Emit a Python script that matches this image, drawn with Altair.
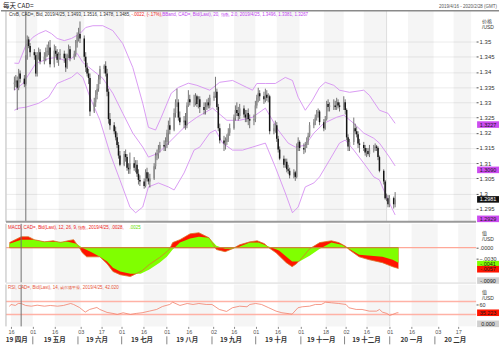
import altair as alt
import pandas as pd

# ---------------- values ----------------
first_open = 1.3360
closes = [
    1.3365, 1.3372, 1.3348, 1.3395, 1.3378,
    1.3360, 1.3445, 1.3507, 1.3485, 1.3465,
    1.3455, 1.3395, 1.3455, 1.3465, 1.3435,
    1.3450, 1.3465, 1.3470, 1.3480, 1.3425,
    1.3470, 1.3460, 1.3440, 1.3455, 1.3460,
    1.3445, 1.3415, 1.3455, 1.3475, 1.3445,
    1.3460, 1.3495, 1.3520, 1.3525, 1.3510,
    1.3450, 1.3415, 1.3395, 1.3380, 1.3270,
    1.3300, 1.3325, 1.3345, 1.3375, 1.3410,
    1.3420, 1.3395, 1.3335, 1.3245, 1.3225,
    1.3205, 1.3185, 1.3160, 1.3125, 1.3095,
    1.3130, 1.3120, 1.3085, 1.3080, 1.3100,
    1.3085, 1.3095, 1.3065, 1.3045, 1.3040,
    1.3025, 1.3070, 1.3050, 1.3040, 1.3050,
    1.3090, 1.3125, 1.3130, 1.3145, 1.3160,
    1.3155, 1.3170, 1.3200, 1.3225, 1.3210,
    1.3265, 1.3300, 1.3300, 1.3250, 1.3235,
    1.3240, 1.3225, 1.3290, 1.3310, 1.3300,
    1.3300, 1.3320, 1.3295, 1.3310, 1.3285,
    1.3275, 1.3285, 1.3300, 1.3290, 1.3315,
    1.3320, 1.3335, 1.3285, 1.3215, 1.3175,
    1.3165, 1.3170, 1.3180, 1.3200, 1.3215,
    1.3250, 1.3275, 1.3265, 1.3255, 1.3280,
    1.3260, 1.3250, 1.3265, 1.3245, 1.3240,
    1.3245, 1.3290, 1.3315, 1.3330, 1.3320,
    1.3310, 1.3325, 1.3315, 1.3320, 1.3205,
    1.3215, 1.3225, 1.3180, 1.3145, 1.3115,
    1.3095, 1.3105, 1.3080, 1.3075, 1.3060,
    1.3070, 1.3055, 1.3155, 1.3170, 1.3150,
    1.3145, 1.3160, 1.3175, 1.3190, 1.3225,
    1.3235, 1.3250, 1.3265, 1.3270, 1.3235,
    1.3215, 1.3245, 1.3295, 1.3285, 1.3290,
    1.3290, 1.3285, 1.3300, 1.3290, 1.3285,
    1.3300, 1.3275, 1.3185, 1.3155, 1.3170,
    1.3215, 1.3205, 1.3195, 1.3165, 1.3160,
    1.3150, 1.3135, 1.3140, 1.3130, 1.3145,
    1.3150, 1.3155, 1.3150, 1.3120, 1.3075,
    1.3040, 1.2985, 1.2985, 1.2965, 1.2985,
    1.2965, 1.2981,
]
highs = [
    1.3385, 1.3390, 1.3385, 1.3410, 1.3405,
    1.3390, 1.3455, 1.3520, 1.3516, 1.3495,
    1.3475, 1.3465, 1.3465, 1.3480, 1.3475,
    1.3465, 1.3480, 1.3490, 1.3500, 1.3505,
    1.3490, 1.3485, 1.3475, 1.3465, 1.3475,
    1.3470, 1.3460, 1.3460, 1.3490, 1.3485,
    1.3470, 1.3505, 1.3530, 1.3545, 1.3566,
    1.3520, 1.3465, 1.3430, 1.3410, 1.3395,
    1.3315, 1.3340, 1.3360, 1.3390, 1.3420,
    1.3425, 1.3435, 1.3410, 1.3345, 1.3265,
    1.3235, 1.3220, 1.3200, 1.3170, 1.3140,
    1.3140, 1.3145, 1.3130, 1.3100, 1.3135,
    1.3120, 1.3110, 1.3110, 1.3080, 1.3060,
    1.3050, 1.3080, 1.3085, 1.3070, 1.3065,
    1.3100, 1.3135, 1.3145, 1.3160, 1.3170,
    1.3175, 1.3185, 1.3210, 1.3240, 1.3250,
    1.3280, 1.3310, 1.3345, 1.3310, 1.3270,
    1.3255, 1.3265, 1.3300, 1.3340, 1.3325,
    1.3325, 1.3330, 1.3325, 1.3320, 1.3320,
    1.3300, 1.3300, 1.3310, 1.3315, 1.3325,
    1.3335, 1.3384, 1.3345, 1.3295, 1.3230,
    1.3190, 1.3185, 1.3195, 1.3215, 1.3230,
    1.3260, 1.3290, 1.3300, 1.3285, 1.3295,
    1.3290, 1.3275, 1.3275, 1.3280, 1.3260,
    1.3260, 1.3305, 1.3325, 1.3348, 1.3340,
    1.3335, 1.3345, 1.3340, 1.3330, 1.3325,
    1.3230, 1.3240, 1.3235, 1.3190, 1.3155,
    1.3125, 1.3115, 1.3115, 1.3095, 1.3085,
    1.3080, 1.3075, 1.3165, 1.3185, 1.3175,
    1.3165, 1.3170, 1.3185, 1.3200, 1.3235,
    1.3245, 1.3260, 1.3275, 1.3280, 1.3275,
    1.3245, 1.3255, 1.3305, 1.3310, 1.3300,
    1.3310, 1.3305, 1.3315, 1.3310, 1.3300,
    1.3320, 1.3310, 1.3280, 1.3195, 1.3180,
    1.3250, 1.3230, 1.3220, 1.3205, 1.3180,
    1.3170, 1.3160, 1.3150, 1.3150, 1.3160,
    1.3160, 1.3165, 1.3160, 1.3155, 1.3125,
    1.3080, 1.3045, 1.3000, 1.2995, 1.2995,
    1.2990, 1.3005,
]
lows = [
    1.3340, 1.3350, 1.3275, 1.3340, 1.3365,
    1.3350, 1.3355, 1.3440, 1.3478, 1.3450,
    1.3440, 1.3385, 1.3385, 1.3440, 1.3425,
    1.3425, 1.3435, 1.3450, 1.3455, 1.3415,
    1.3415, 1.3450, 1.3430, 1.3420, 1.3440,
    1.3430, 1.3400, 1.3410, 1.3445, 1.3435,
    1.3440, 1.3450, 1.3480, 1.3500, 1.3495,
    1.3435, 1.3400, 1.3385, 1.3360, 1.3255,
    1.3265, 1.3285, 1.3310, 1.3335, 1.3360,
    1.3395, 1.3385, 1.3320, 1.3230, 1.3210,
    1.3195, 1.3175, 1.3150, 1.3115, 1.3090,
    1.3090, 1.3105, 1.3075, 1.3065, 1.3065,
    1.3075, 1.3070, 1.3055, 1.3030, 1.3025,
    1.3016, 1.3020, 1.3040, 1.3030, 1.3020,
    1.3045, 1.3080, 1.3110, 1.3115, 1.3135,
    1.3140, 1.3140, 1.3150, 1.3160, 1.3195,
    1.3205, 1.3250, 1.3285, 1.3240, 1.3225,
    1.3215, 1.3210, 1.3215, 1.3285, 1.3290,
    1.3285, 1.3290, 1.3285, 1.3280, 1.3265,
    1.3260, 1.3260, 1.3275, 1.3280, 1.3280,
    1.3305, 1.3315, 1.3275, 1.3205, 1.3165,
    1.3140, 1.3145, 1.3160, 1.3170, 1.3190,
    1.3210, 1.3240, 1.3255, 1.3240, 1.3245,
    1.3250, 1.3235, 1.3235, 1.3225, 1.3215,
    1.3225, 1.3235, 1.3280, 1.3300, 1.3305,
    1.3295, 1.3300, 1.3305, 1.3300, 1.3195,
    1.3195, 1.3200, 1.3170, 1.3135, 1.3110,
    1.3085, 1.3085, 1.3070, 1.3065, 1.3050,
    1.3050, 1.3042, 1.3050, 1.3140, 1.3140,
    1.3130, 1.3135, 1.3150, 1.3160, 1.3185,
    1.3215, 1.3225, 1.3240, 1.3250, 1.3225,
    1.3205, 1.3210, 1.3240, 1.3270, 1.3270,
    1.3275, 1.3275, 1.3275, 1.3280, 1.3270,
    1.3275, 1.3260, 1.3175, 1.3140, 1.3140,
    1.3160, 1.3195, 1.3185, 1.3150, 1.3135,
    1.3140, 1.3125, 1.3120, 1.3125, 1.3120,
    1.3135, 1.3140, 1.3140, 1.3110, 1.3070,
    1.3030, 1.2980, 1.2975, 1.2955, 1.2955,
    1.2951, 1.2955,
]

upper_dates = ["2019-04-15", "2019-04-18", "2019-04-23", "2019-04-28", "2019-05-02", "2019-05-07",
               "2019-05-11", "2019-05-15", "2019-05-20", "2019-05-25", "2019-05-31", "2019-06-04",
               "2019-06-09", "2019-06-16", "2019-06-23", "2019-06-30", "2019-07-07", "2019-07-14",
               "2019-07-18", "2019-07-23", "2019-07-27", "2019-08-03", "2019-08-08", "2019-08-15",
               "2019-08-21", "2019-08-30", "2019-09-06", "2019-09-15", "2019-09-25", "2019-09-29",
               "2019-10-02", "2019-10-08", "2019-10-15", "2019-10-22", "2019-10-27", "2019-10-31",
               "2019-11-05", "2019-11-10", "2019-11-15", "2019-11-19", "2019-11-25", "2019-11-29",
               "2019-12-06", "2019-12-16", "2019-12-20", "2019-12-27", "2020-01-02", "2020-01-07"]
upper_vals = [1.3429, 1.3428, 1.3487, 1.3514, 1.3526, 1.3536, 1.3526, 1.3510, 1.3503, 1.3510,
              1.3526, 1.3546, 1.3552, 1.3552, 1.3536, 1.3493, 1.3415, 1.3297, 1.3218, 1.3209,
              1.3251, 1.3330, 1.3349, 1.3363, 1.3356, 1.3340, 1.3366, 1.3372, 1.3349, 1.3340,
              1.3362, 1.3362, 1.3362, 1.3382, 1.3372, 1.3317, 1.3274, 1.3307, 1.3349, 1.3366,
              1.3356, 1.3340, 1.3333, 1.3340, 1.3323, 1.3274, 1.3264, 1.3231]
mid_dates = ["2019-04-15", "2019-04-21", "2019-04-30", "2019-05-09", "2019-05-15", "2019-05-20",
             "2019-05-25", "2019-05-29", "2019-06-02", "2019-06-09", "2019-06-16", "2019-06-23",
             "2019-06-30", "2019-07-07", "2019-07-14", "2019-07-18", "2019-07-25", "2019-08-01",
             "2019-08-08", "2019-08-15", "2019-08-21", "2019-09-01", "2019-09-11", "2019-09-20",
             "2019-09-29", "2019-10-08", "2019-10-17", "2019-10-24", "2019-10-29", "2019-11-05",
             "2019-11-11", "2019-11-18", "2019-11-27", "2019-12-02", "2019-12-09", "2019-12-16",
             "2019-12-23", "2019-12-27", "2020-01-03", "2020-01-07"]
mid_vals = [1.3340, 1.3362, 1.3428, 1.3444, 1.3448, 1.3438, 1.3444, 1.3461, 1.3431, 1.3405,
            1.3379, 1.3330, 1.3264, 1.3199, 1.3153, 1.3120, 1.3133, 1.3166, 1.3199, 1.3231,
            1.3251, 1.3281, 1.3241, 1.3241, 1.3251, 1.3281, 1.3209, 1.3166, 1.3153, 1.3159,
            1.3199, 1.3231, 1.3251, 1.3258, 1.3231, 1.3199, 1.3182, 1.3166, 1.3120, 1.3091]
lower_dates = ["2019-04-15", "2019-04-18", "2019-04-23", "2019-05-02", "2019-05-09", "2019-05-15",
               "2019-05-20", "2019-05-25", "2019-05-29", "2019-06-02", "2019-06-07", "2019-06-14",
               "2019-06-21", "2019-06-28", "2019-07-05", "2019-07-09", "2019-07-14", "2019-07-18",
               "2019-07-25", "2019-08-01", "2019-08-05", "2019-08-12", "2019-08-19", "2019-08-23",
               "2019-08-30", "2019-09-03", "2019-09-08", "2019-09-15", "2019-09-22", "2019-09-29",
               "2019-10-08", "2019-10-15", "2019-10-22", "2019-10-27", "2019-10-31", "2019-11-05",
               "2019-11-11", "2019-11-15", "2019-11-22", "2019-11-29", "2019-12-03", "2019-12-09",
               "2019-12-16", "2019-12-23", "2019-12-27", "2020-01-02", "2020-01-07"]
lower_vals = [1.3274, 1.3281, 1.3284, 1.3297, 1.3317, 1.3362, 1.3372, 1.3382, 1.3398, 1.3382,
              1.3317, 1.3241, 1.3133, 1.3045, 1.2956, 1.2937, 1.2956, 1.3022, 1.3035, 1.3022,
              1.3012, 1.3068, 1.3143, 1.3153, 1.3199, 1.3209, 1.3166, 1.3143, 1.3143, 1.3153,
              1.3166, 1.3087, 1.3002, 1.2937, 1.2956, 1.3022, 1.3035, 1.3055, 1.3110, 1.3166,
              1.3176, 1.3143, 1.3100, 1.3055, 1.3045, 1.2979, 1.2930]

macd_dates = ["2019-04-15", "2019-04-23", "2019-04-28", "2019-05-02", "2019-05-09", "2019-05-15",
              "2019-05-20", "2019-05-25", "2019-05-29", "2019-05-31", "2019-06-02", "2019-06-04",
              "2019-06-07", "2019-06-11", "2019-06-16", "2019-06-21", "2019-06-25", "2019-06-30",
              "2019-07-07", "2019-07-11", "2019-07-15", "2019-07-20", "2019-07-27", "2019-08-01",
              "2019-08-03", "2019-08-05", "2019-08-10", "2019-08-17", "2019-08-23", "2019-08-30",
              "2019-09-04", "2019-09-10", "2019-09-15", "2019-09-20", "2019-09-27", "2019-10-02",
              "2019-10-07", "2019-10-10", "2019-10-15", "2019-10-22", "2019-10-26", "2019-10-29",
              "2019-11-02", "2019-11-07", "2019-11-14", "2019-11-22", "2019-11-27", "2019-12-02",
              "2019-12-04", "2019-12-11", "2019-12-18", "2019-12-27", "2020-01-03", "2020-01-07"]
macd_vals = [0.0014, 0.0030, 0.0030, 0.0022, 0.0016, 0.0019, 0.0014, 0.0019, 0.0022, 0.0011,
             0.0000, -0.0014, -0.0025, -0.0025, -0.0025, -0.0044, -0.0065, -0.0074, -0.0079, -0.0071,
             -0.0063, -0.0046, -0.0027, -0.0011, -0.0003, 0.0014, 0.0022, 0.0038, 0.0041, 0.0027,
             -0.0005, -0.0011, -0.0003, 0.0008, 0.0016, 0.0019, 0.0011, 0.0000, -0.0014, -0.0041,
             -0.0052, -0.0044, -0.0027, -0.0003, 0.0014, 0.0019, 0.0014, 0.0003, -0.0005, -0.0025,
             -0.0033, -0.0041, -0.0052, -0.0057]
signal_dates = ["2019-04-15", "2019-04-23", "2019-05-02", "2019-05-09", "2019-05-15", "2019-05-25",
                "2019-05-31", "2019-06-04", "2019-06-11", "2019-06-16", "2019-06-21", "2019-06-25",
                "2019-06-30", "2019-07-07", "2019-07-14", "2019-07-20", "2019-07-27", "2019-08-01",
                "2019-08-05", "2019-08-10", "2019-08-17", "2019-08-23", "2019-08-30", "2019-09-04",
                "2019-09-10", "2019-09-15", "2019-09-20", "2019-09-27", "2019-10-03", "2019-10-10",
                "2019-10-17", "2019-10-26", "2019-10-31", "2019-11-07", "2019-11-14", "2019-11-22",
                "2019-11-29", "2019-12-04", "2019-12-11", "2019-12-27", "2020-01-03", "2020-01-07"]
signal_vals = [0.0011, 0.0022, 0.0022, 0.0016, 0.0016, 0.0016, 0.0011, 0.0000, -0.0014, -0.0025,
               -0.0038, -0.0055, -0.0065, -0.0071, -0.0071, -0.0060, -0.0041, -0.0025, -0.0005, 0.0014,
               0.0025, 0.0030, 0.0027, 0.0005, -0.0003, -0.0003, 0.0003, 0.0014, 0.0014, 0.0003,
               -0.0008, -0.0038, -0.0038, -0.0022, -0.0003, 0.0014, 0.0008, -0.0003, -0.0019, -0.0025,
               -0.0033, -0.0041]

rsi_dates = ["2019-04-15", "2019-04-16", "2019-04-19", "2019-04-21", "2019-04-23", "2019-04-26", "2019-04-30",
             "2019-05-04", "2019-05-09", "2019-05-13", "2019-05-18", "2019-05-22", "2019-05-27", "2019-05-29",
             "2019-06-02", "2019-06-06", "2019-06-09", "2019-06-14", "2019-06-16", "2019-06-21", "2019-06-25",
             "2019-06-28", "2019-07-02", "2019-07-07", "2019-07-11", "2019-07-15", "2019-07-20", "2019-07-25",
             "2019-07-29", "2019-08-03", "2019-08-05", "2019-08-10", "2019-08-15", "2019-08-19", "2019-08-23",
             "2019-08-28", "2019-09-01", "2019-09-06", "2019-09-11", "2019-09-15", "2019-09-20", "2019-09-25",
             "2019-09-27", "2019-10-01", "2019-10-05", "2019-10-10", "2019-10-15", "2019-10-19", "2019-10-24",
             "2019-10-26", "2019-10-30", "2019-11-02", "2019-11-07", "2019-11-11", "2019-11-15", "2019-11-18",
             "2019-11-22", "2019-11-27", "2019-12-02", "2019-12-04", "2019-12-09", "2019-12-13", "2019-12-18",
             "2019-12-23", "2019-12-25", "2019-12-27", "2019-12-30", "2020-01-01", "2020-01-03", "2020-01-06",
             "2020-01-07"]
rsi_vals = [54.6, 60.8, 57.7, 63.8, 63.8, 57.7, 55.5,
            58.6, 55.5, 57.7, 55.5, 57.7, 63.8, 60.8,
            51.5, 37.1, 45.4, 51.5, 45.4, 36.2, 33.1,
            30.0, 35.2, 30.0, 33.1, 35.2, 40.2, 45.4,
            54.6, 60.8, 67.8, 57.7, 63.8, 60.8, 63.8,
            60.8, 60.8, 45.4, 39.2, 50.6, 55.5, 53.7,
            60.8, 63.8, 60.8, 50.6, 40.2, 35.2, 32.2,
            30.9, 50.6, 53.7, 55.5, 60.8, 60.8, 67.8,
            66.0, 63.8, 60.8, 50.6, 45.4, 45.4, 40.2,
            40.2, 45.4, 37.1, 33.1, 26.9, 30.0, 35.2,
            35.2]

band_starts = ["2019-04-16", "2019-05-16", "2019-06-17", "2019-07-16", "2019-08-16", "2019-09-16",
               "2019-10-16", "2019-11-18", "2019-12-16", "2020-01-16", "2020-02-17"]
band_ends = ["2019-05-01", "2019-06-03", "2019-07-01", "2019-08-01", "2019-09-02", "2019-10-01",
             "2019-11-01", "2019-12-02", "2020-01-01", "2020-02-03", "2020-02-29T07:00"]
tick_dates = ["2019-04-16", "2019-05-01", "2019-05-16", "2019-06-03", "2019-06-17", "2019-07-01",
              "2019-07-16", "2019-08-01", "2019-08-16", "2019-09-02", "2019-09-16", "2019-10-01",
              "2019-10-16", "2019-11-01", "2019-11-18", "2019-12-02", "2019-12-16", "2020-01-01",
              "2020-01-16", "2020-02-03", "2020-02-17"]
month_labels = ["19 四月", "19 五月", "19 六月", "19 七月", "19 八月", "19 九月",
                "19 十月", "19 十一月", "19 十二月", "20 一月", "20 二月"]
month_label_dates = ["2019-04-20", "2019-05-16", "2019-06-14", "2019-07-15", "2019-08-15", "2019-09-14",
                     "2019-10-15", "2019-11-15", "2019-12-16", "2020-01-16", "2020-02-15"]
month_sep_dates = ["2019-05-01", "2019-06-01", "2019-07-01", "2019-08-01", "2019-09-01",
                   "2019-10-01", "2019-11-01", "2019-12-01", "2020-01-01", "2020-02-01"]
price_ticks = [1.295, 1.3, 1.305, 1.31, 1.315, 1.32, 1.325, 1.33, 1.335, 1.34, 1.345, 1.35]
cursor_date = "2019-04-23"

# value tags on the right edge (value where the tag sits, text it shows)
price_tag_pos = [1.3227, 1.3078, 1.2981, 1.2917]
price_tag_text = ["1.3227", "1.3090", "1.2981", "1.2929"]
macd_tag_pos = [-0.0045, -0.0059, -0.0090]
macd_tag_text = ["-.0041", "-.0057", "-.0090"]
rsi_tag_pos = [35.2, 1.0]
rsi_tag_text = ["35.223", "0.000"]

# ---------------- helpers ----------------
def ts(s):
    return int(pd.Timestamp(s, tz="UTC").value // 1_000_000)

W, H1, H2, H3 = 472, 212, 59, 42
XDOM = [ts("2019-04-12T14:00"), ts("2020-02-29T07:00")]
XS = alt.Scale(type="utc", domain=XDOM)
FONT = "Liberation Sans"
CJK = "Noto Sans CJK SC"
BOX = "M-1,-0.3L1,-0.3L1,0.3L-1,0.3Z"
one = pd.DataFrame({"a": [0]})


def X(field, axis=None):
    return alt.X(f"{field}:T", scale=XS, axis=axis)


dates = pd.bdate_range("2019-04-15", periods=len(closes))
opens = [first_open] + closes[:-1]
candles = pd.DataFrame({
    "t": [ts(d.strftime("%Y-%m-%d")) for d in dates],
    "o": opens, "h": highs, "l": lows, "c": closes,
})
candles["dir"] = ["up" if c >= o else "down" for o, c in zip(opens, closes)]

bb = pd.concat([
    pd.DataFrame({"t": [ts(d) for d in upper_dates], "v": upper_vals, "band": "upper"}),
    pd.DataFrame({"t": [ts(d) for d in mid_dates], "v": mid_vals, "band": "mid"}),
    pd.DataFrame({"t": [ts(d) for d in lower_dates], "v": lower_vals, "band": "lower"}),
])
bands = pd.DataFrame({"s": [ts(d) for d in band_starts], "e": [ts(d) for d in band_ends]})
macd = pd.DataFrame({"t": [ts(d) for d in macd_dates], "v": macd_vals})
signal = pd.DataFrame({"t": [ts(d) for d in signal_dates], "v": signal_vals})
rsi = pd.DataFrame({"t": [ts(d) for d in rsi_dates], "v": rsi_vals})
cursor = pd.DataFrame({"t": [ts(cursor_date)]})
yearline = pd.DataFrame({"t": [ts("2020-01-01")]})


def txt(x, y, s, color="#333", size=4.5, font=FONT, align="left", weight="normal"):
    return alt.Chart(one).mark_text(align=align, baseline="middle", fontSize=size, font=font,
                                    color=color, fontWeight=weight).encode(
        x=alt.value(x), y=alt.value(y), text=alt.value(s))


def common(h, xaxis=None):
    bg = alt.Chart(bands).mark_rect(color="#000000", opacity=0.04).encode(
        x=X("s", xaxis), x2="e", y=alt.value(0), y2=alt.value(h))
    yl = alt.Chart(yearline).mark_rule(color="#dedede", strokeWidth=1).encode(
        x=X("t", xaxis), y=alt.value(0), y2=alt.value(h))
    cur = alt.Chart(cursor).mark_rule(color="#707070", strokeWidth=1).encode(
        x=X("t", xaxis), y=alt.value(0), y2=alt.value(h))
    left = alt.Chart(one).mark_rule(color="#b8b8b8", strokeWidth=1).encode(
        x=alt.value(0), y=alt.value(0), y2=alt.value(h))
    return bg, yl, cur, left


def tags(pos, text, fills, inks, Yf):
    df = pd.DataFrame({"v": pos, "lab": text, "fill": fills, "ink": inks})
    boxes = alt.Chart(df).mark_point(shape=BOX, size=484, filled=True, opacity=1, strokeWidth=0).encode(
        x=alt.value(484), y=Yf("v"), color=alt.Color("fill:N", scale=None))
    labels = alt.Chart(df).mark_text(fontSize=5.5, font=FONT, align="center", baseline="middle").encode(
        x=alt.value(484), y=Yf("v"), text="lab:N", color=alt.Color("ink:N", scale=None))
    return boxes, labels


# ---------------- price panel ----------------
ysc1 = alt.Scale(domain=[1.29073, 1.36015], nice=False, zero=False)
yax1 = alt.Axis(orient="right", values=price_ticks, labelExpr="format(datum.value, '.3~f')",
                grid=True, gridColor="#ececec", gridWidth=1, domain=False, tickSize=2,
                tickColor="#555", labelFontSize=6, labelColor="#333", labelPadding=1, title=None,
                labelFont=FONT)


def Y1(f):
    return alt.Y(f"{f}:Q", scale=ysc1, axis=yax1)


bg1, yl1, cur1, left1 = common(H1)
bbl = alt.Chart(bb).mark_line(color="#d690f2", strokeWidth=0.9).encode(
    x=X("t"), y=Y1("v"), detail="band:N")
wick = alt.Chart(candles).mark_rule(color="#3a3a3a", strokeWidth=0.7).encode(
    x=X("t"), y=Y1("l"), y2="h")
body = alt.Chart(candles).mark_bar(size=1.5).encode(
    x=X("t"), y=Y1("o"), y2="c",
    color=alt.Color("dir:N", scale=alt.Scale(domain=["up", "down"], range=["#8e8e8e", "#151515"]),
                    legend=None))
topline = alt.Chart(one).mark_rule(color="#8a8a8a", strokeWidth=1.5).encode(
    x=alt.value(-5), x2=alt.value(495), y=alt.value(0))
ghost = alt.Chart(one).mark_rule(strokeOpacity=0).encode(
    x=alt.value(-5), y=alt.value(-10), y2=alt.value(0))
sep1 = alt.Chart(one).mark_rule(color="#9a9a9a", strokeWidth=2).encode(
    x=alt.value(0), x2=alt.value(W), y=alt.value(H1))
pboxes, pboxt = tags(price_tag_pos, price_tag_text,
                     ["#cc4cf0", "#cc4cf0", "#111111", "#cc4cf0"],
                     ["#1a1a1a", "#1a1a1a", "#ffffff", "#1a1a1a"], Y1)

price = alt.layer(
    bg1, yl1, bbl, wick, body, cur1, left1, topline, ghost, sep1, pboxes, pboxt,
    txt(-3, -5, "每天 CAD=", color="#222", size=6.5, font=CJK),
    txt(493, -4, "2019/4/16 - 2020/2/28 (GMT)", color="#555", size=4.5, align="right"),
    txt(3, 4, "CrvB, CAD=, Bid, 2019/4/25, 1.3493, 1.3516, 1.3478, 1.3485, ", color="#333"),
    txt(126, 4, "-.0022, (-.17%), ", color="#ee2222"),
    txt(157, 4, "BBand, CAD=, Bid(Last), 20, 指数, 2.0, 2019/4/25, 1.3496, 1.3381, 1.3267", color="#c040f0"),
    txt(478, 10, "价格", color="#333", size=5, font=CJK),
    txt(478, 16, "/USD", color="#333", size=5),
).properties(width=W, height=H1)

# ---------------- MACD panel ----------------
ysc2 = alt.Scale(domain=[-0.009545, 0.006545], nice=False, zero=False)
yax2 = alt.Axis(orient="right", values=[0, -0.003],
                labelExpr="replace(format(datum.value, '.4f'), '0.', '.')",
                grid=False, domain=False, tickSize=2, tickColor="#555", labelFontSize=5.5,
                labelColor="#333", labelPadding=1, title=None, labelFont=FONT)


def Y2(f):
    return alt.Y(f"{f}:Q", scale=ysc2, axis=yax2)


zero = pd.DataFrame({"z": [0.0], "t0": [candles["t"].iloc[0]], "t1": [candles["t"].iloc[-1]]})
bg2, yl2, cur2, left2 = common(H2)
zfull = alt.Chart(zero).mark_rule(color="#ffa898", strokeWidth=1.2).encode(
    x=alt.value(0), x2=alt.value(W), y=Y2("z"))
red = alt.Chart(macd).mark_area(color="#ff1500").encode(x=X("t"), y=Y2("v"))
green = alt.Chart(signal).mark_area(color="#80ff00").encode(x=X("t"), y=Y2("v"))
mline = alt.Chart(macd).mark_line(color="#d9772b", strokeWidth=0.8).encode(x=X("t"), y=Y2("v"))
zdata = alt.Chart(zero).mark_rule(color="#c98436", strokeWidth=1.2).encode(
    x=X("t0"), x2="t1", y=Y2("z"))
sep2 = alt.Chart(one).mark_rule(color="#d6d6d6", strokeWidth=1).encode(
    x=alt.value(0), x2=alt.value(W), y=alt.value(H2 + 0.5))
mboxes, mboxt = tags(macd_tag_pos, macd_tag_text, ["#80ff00", "#ff1500", "#d0d0d0"],
                     ["#1a1a1a", "#1a1a1a", "#1a1a1a"], Y2)

macd_panel = alt.layer(
    bg2, yl2, zfull, red, green, mline, zdata, cur2, left2, sep2, mboxes, mboxt,
    txt(2, 4, "MACD, CAD=, Bid(Last), 12, 26, 9, 指数, 2019/4/25, .0028, ", color="#ee2222"),
    txt(124, 4, ".0025", color="#66dd00"),
    txt(478, 9, "值", color="#333", size=5, font=CJK),
    txt(478, 15, "/USD", color="#333", size=5),
).properties(width=W, height=H2)

# ---------------- RSI panel ----------------
xax3 = alt.Axis(orient="bottom", values=[ts(d) for d in tick_dates],
                labelExpr="utcFormat(datum.value, '%d')", labelFontSize=5.5, labelColor="#555",
                tickSize=2, tickColor="#888", domain=False, grid=False, labelPadding=1,
                title=None, labelFlush=False, labelOverlap=False, labelFont=FONT)
ysc3 = alt.Scale(domain=[-6.92, 122.31], nice=False, zero=False)
yax3 = alt.Axis(orient="right", values=[60], grid=False, domain=False, tickSize=2, tickColor="#555",
                labelFontSize=5.5, labelColor="#333", labelPadding=1, title=None, labelFont=FONT)


def Y3(f):
    return alt.Y(f"{f}:Q", scale=ysc3, axis=yax3)


bg3, yl3, cur3, left3 = common(H3, xax3)
levels = alt.Chart(pd.DataFrame({"v": [70, 30]})).mark_rule(color="#ffb2a6", strokeWidth=1.6).encode(
    x=alt.value(0), x2=alt.value(W), y=Y3("v"))
rline = alt.Chart(rsi).mark_line(color="#f2806a", strokeWidth=0.8).encode(x=X("t", xax3), y=Y3("v"))
rboxes, rboxt = tags(rsi_tag_pos, rsi_tag_text, ["#ff1500", "#d0d0d0"], ["#1a1a1a", "#1a1a1a"], Y3)
mlab = alt.Chart(pd.DataFrame({"t": [ts(d) for d in month_label_dates], "s": month_labels})).mark_text(
    fontSize=6.5, font=CJK, fontWeight="bold", color="#333", baseline="middle").encode(
    x=X("t", xax3), y=alt.value(H3 + 14), text="s:N")
msep = alt.Chart(pd.DataFrame({"t": [ts(d) for d in month_sep_dates]})).mark_rule(
    color="#666", strokeWidth=0.8).encode(x=X("t", xax3), y=alt.value(H3 + 10), y2=alt.value(H3 + 18))

rsi_panel = alt.layer(
    bg3, yl3, levels, rline, cur3, left3, rboxes, rboxt, mlab, msep,
    txt(2, 3, "RSI, CAD=, Bid(Last), 14, 威尔德平滑, 2019/4/25, 42.020", color="#e8553a"),
    txt(478, 7, "值", color="#333", size=5, font=CJK),
    txt(478, 14, "/USD", color="#333", size=5),
).properties(width=W, height=H3)

chart = alt.vconcat(price, macd_panel, rsi_panel, spacing=2, bounds="flush").properties(
    padding=0, background="white"
).configure_view(stroke=None)

chart.save("out.html", embed_options={"renderer": "svg", "actions": False})
